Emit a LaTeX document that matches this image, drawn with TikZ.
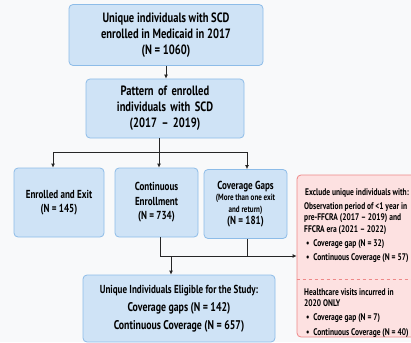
\documentclass[tikz,border=0pt]{standalone}
\usepackage{fontspec}
\setmainfont{PT Sans}[FakeStretch=0.78]
\usetikzlibrary{arrows.meta, calc}
\definecolor{boxblue}{HTML}{CFE3F6}
\definecolor{lineblue}{HTML}{8DBCE8}
\definecolor{boxred}{HTML}{FDE1E1}
\definecolor{linered}{HTML}{EE8888}
\definecolor{paper}{HTML}{F8F9FA}

\begin{document}
\begin{tikzpicture}[x=1pt,y=-1pt]
	\tikzstyle{bluebox}=[draw=lineblue, fill=boxblue, rounded corners=4pt, line width=0.8pt, align=center, inner sep=0pt]
	\tikzstyle{redbox}=[draw=linered, fill=boxred, rounded corners=4pt, line width=0.8pt]
	\tikzstyle{link}=[line width=0.9pt, black!85]
	\tikzstyle{arrow}=[link, -{Latex[length=4pt,width=4pt]}]
	\tikzstyle{note}=[anchor=west, inner sep=0pt, font=\fontsize{9.6}{11.5}\selectfont\bfseries]
	\def\bigtxt{\fontsize{13.5}{16}\selectfont\bfseries}
	\def\midtxt{\fontsize{11.6}{14.5}\selectfont\bfseries}
	\def\smalltxt{\fontsize{9}{12}\selectfont\bfseries}

	\clip (0,0) rectangle (411,342);
	\fill [paper] (0,0) rectangle (411,342);

	\begin{scope}
		\node (top) [bluebox, minimum width=194pt, minimum height=61pt, font=\bigtxt] at (166,35) {Unique individuals with SCD\\enrolled in Medicaid in 2017\\(N = 1060)};
		\node (pattern) [bluebox, minimum width=158pt, minimum height=59pt, font=\bigtxt, text width=150pt] at (165,108.5) {Pattern of enrolled\\individuals with SCD\\(2017 -- 2019)};
	\end{scope}

	\begin{scope}
		\node (enr) [bluebox, minimum width=90pt, minimum height=69pt, font=\midtxt] at (59,202.5) {Enrolled and Exit\\(N = 145)};
		\node (cont) [bluebox, minimum width=83pt, minimum height=69pt, font=\midtxt] at (156.5,202.5) {Continuous\\Enrollment\\(N = 734)};
		\node (gaps) [bluebox, minimum width=83pt, minimum height=69pt, font=\smalltxt] at (245.5,204) {{\midtxt Coverage Gaps}\\[-1pt](More than one exit\\and return)\\[0pt]{\midtxt (N = 181)}};
	\end{scope}

	\begin{scope}
		\node (elig) [bluebox, minimum width=192pt, minimum height=67pt, font=\fontsize{12.6}{18}\selectfont\bfseries] at (179,308.5) {{\fontsize{11.6}{18}\selectfont\bfseries Unique Individuals Eligible for the Study:}\\Coverage gaps (N = 142)\\Continuous Coverage (N = 657)};
	\end{scope}

	\begin{scope}
		\node (excl) [redbox, minimum width=128pt, minimum height=162pt] at (361,256) {};
		\node (head) [note] at (305,193) {Exclude unique individuals with:};
		\node (obs) [note, align=left] at (304,218.5) {Observation period of <1 year in\\pre-FFCRA (2017 -- 2019) and\\FFCRA era (2021 -- 2022)};
		\node (b1) [note] at (306,244) {\textbullet\ \ Coverage gap (N = 32)};
		\node (b2) [note] at (306,258) {\textbullet\ \ Continuous Coverage (N = 57)};
		\draw [linered, line width=0.7pt, dash pattern=on 3pt off 3pt] (excl.west |- 0,279) -- (excl.east |- 0,279);
		\node (hc) [note, align=left] at (304,297.5) {Healthcare visits incurred in\\2020 ONLY};
		\node (b3) [note] at (306,318) {\textbullet\ \ Coverage gap (N = 7)};
		\node (b4) [note] at (306,333) {\textbullet\ \ Continuous Coverage (N = 40)};
	\end{scope}

	\begin{scope}
		\coordinate (split) at (159,152);
		\coordinate (c1) at (53,152);
		\coordinate (c3) at (247,152);
		\draw [arrow] (top.south) -- (top.south |- pattern.north);
		\draw [link] (split |- pattern.south) -- (split);
		\draw [link] (c1) -- (c3);
		\draw [arrow] (c1) -- (c1 |- enr.north);
		\draw [arrow] (split) -- (split |- cont.north);
		\draw [arrow] (c3) -- (c3 |- gaps.north);
	\end{scope}

	\begin{scope}
		\coordinate (m1) at (160,256);
		\coordinate (m2) at (247,256);
		\coordinate (m3) at (171,256);
		\draw [link] (m1 |- cont.south) -- (m1);
		\draw [link] (m2 |- gaps.south) -- (m2);
		\draw [arrow] (m1) -- (m1 -| excl.west);
		\draw [arrow] (m3) -- (m3 |- elig.north);
	\end{scope}
\end{tikzpicture}
\end{document}
